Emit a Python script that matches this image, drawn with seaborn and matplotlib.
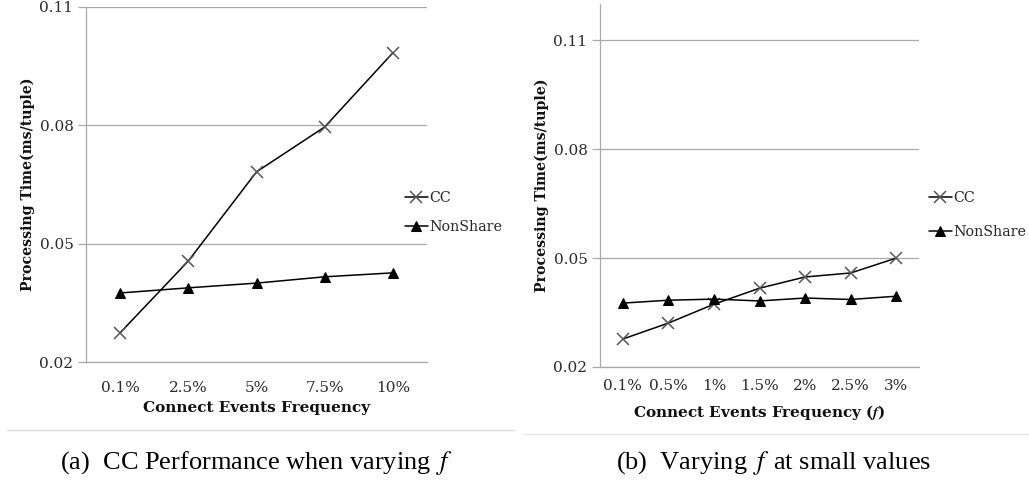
import matplotlib
matplotlib.use("Agg")
import matplotlib.pyplot as plt
import seaborn as sns
import pandas as pd
from matplotlib.lines import Line2D

# ---- data ----
cats_a = ["0.1%", "2.5%", "5%", "7.5%", "10%"]
cc_a = [0.0274, 0.0456, 0.0682, 0.0796, 0.0984]
nonshare_a = [0.0375, 0.0388, 0.0400, 0.0416, 0.0426]

cats_b = ["0.1%", "0.5%", "1%", "1.5%", "2%", "2.5%", "3%"]
cc_b = [0.0277, 0.0321, 0.0373, 0.0417, 0.0448, 0.0459, 0.0500]
nonshare_b = [0.0376, 0.0384, 0.0387, 0.0382, 0.0390, 0.0386, 0.0395]

yticks = [0.02, 0.05, 0.08, 0.11]
ytick_labels = ["0.02", "0.05", "0.08", "0.11"]
series_names = ["CC", "NonShare"]

ylabel = "Processing Time(ms/tuple)"
xlabel_a = "Connect Events Frequency"
xlabel_b = "Connect Events Frequency ($\\mathbfit{f}$)"
caption_a = "(a)  CC Performance when varying $\\,f$"
caption_b = "(b)  Varying $\\,f\\,$ at small values"

sns.set_theme(style="white")
plt.rcParams["font.family"] = ["DejaVu Serif"]
plt.rcParams["mathtext.fontset"] = "stix"

fig = plt.figure(figsize=(10.29, 4.82), dpi=100)
W, H = 1029, 482


def draw(ax, cats, cc, ns, ylim, xlabel, tickpad, leg_xy, labelspacing):
    df_cc = pd.DataFrame({"freq": cats, "value": cc})
    df_ns = pd.DataFrame({"freq": cats, "value": ns})
    sns.lineplot(data=df_cc, x="freq", y="value", marker="x", color="black",
                 linewidth=1.1, markersize=8.5, markeredgewidth=1.1,
                 markeredgecolor="#555555", sort=False, ax=ax,
                 label=series_names[0])
    sns.lineplot(data=df_ns, x="freq", y="value", marker="^", color="black",
                 linewidth=1.1, markersize=6.5, markerfacecolor="black",
                 markeredgecolor="black", sort=False, ax=ax,
                 label=series_names[1])
    ax.set_xlim(-0.5, len(cats) - 0.5)
    ax.set_ylim(*ylim)
    ax.set_yticks(yticks)
    ax.set_yticklabels(ytick_labels)
    ax.grid(axis="y", color="#a9a9a9", linewidth=0.9)
    ax.grid(axis="x", visible=False)
    for s in ["top", "right"]:
        ax.spines[s].set_visible(False)
    for s in ["left", "bottom"]:
        ax.spines[s].set_color("#a9a9a9")
        ax.spines[s].set_linewidth(0.9)
    ax.tick_params(axis="y", left=True, length=6, color="#a9a9a9", width=0.9,
                   labelsize=11, labelcolor="#2a2a2a", pad=3)
    ax.tick_params(axis="x", bottom=False, length=0, labelsize=11,
                   labelcolor="#2a2a2a", pad=tickpad)
    ax.set_ylabel(ylabel, fontsize=10.2, fontweight="bold", color="#111111")
    ax.set_xlabel(xlabel, fontsize=11, fontweight="bold", color="#111111")
    ax.yaxis.label.set_va("center")
    ax.xaxis.label.set_va("center")
    handles, labels = ax.get_legend_handles_labels()
    if ax.get_legend() is not None:
        ax.get_legend().remove()
    fig.legend(handles, labels, loc="center left", bbox_to_anchor=leg_xy,
               frameon=False, fontsize=10.3, handlelength=1.6, handletextpad=0.1,
               borderpad=0, borderaxespad=0, labelspacing=labelspacing)
    return ax


# left axes
axa = fig.add_axes([86 / W, 1 - 362 / H, (427 - 86) / W, (362 - 7) / H])
draw(axa, cats_a, cc_a, nonshare_a, (0.02, 0.11), xlabel_a, 14,
     (405 / W, 1 - 212.5 / H), 1.05)
axa.yaxis.set_label_coords((28 - 86) / 341, 0.5)
axa.xaxis.set_label_coords(0.5, (362 - 408) / 355)

# right axes
axb = fig.add_axes([600 / W, 1 - 367 / H, (919 - 600) / W, (367 - 4) / H])
draw(axb, cats_b, cc_b, nonshare_b, (0.02, 0.12), xlabel_b, 9,
     (929 / W, 1 - 215 / H), 1.4)
axb.yaxis.set_label_coords((542 - 600) / 319, 0.5)
axb.xaxis.set_label_coords(0.5, (367 - 412) / 363)

# separator lines
fig.add_artist(Line2D([7 / W, 514 / W], [1 - 430 / H] * 2, color="#dcdcdc", lw=1))
fig.add_artist(Line2D([524 / W, 1029 / W], [1 - 434 / H] * 2, color="#e6e6e6", lw=1))

# captions
fig.text(256 / W, 1 - 463 / H, caption_a, ha="center", va="center",
         fontsize=19, family=["Liberation Serif"], color="black")
fig.text(774 / W, 1 - 463 / H, caption_b, ha="center", va="center",
         fontsize=19, family=["Liberation Serif"], color="black")

fig.savefig("out.png", dpi=100, facecolor="white")
